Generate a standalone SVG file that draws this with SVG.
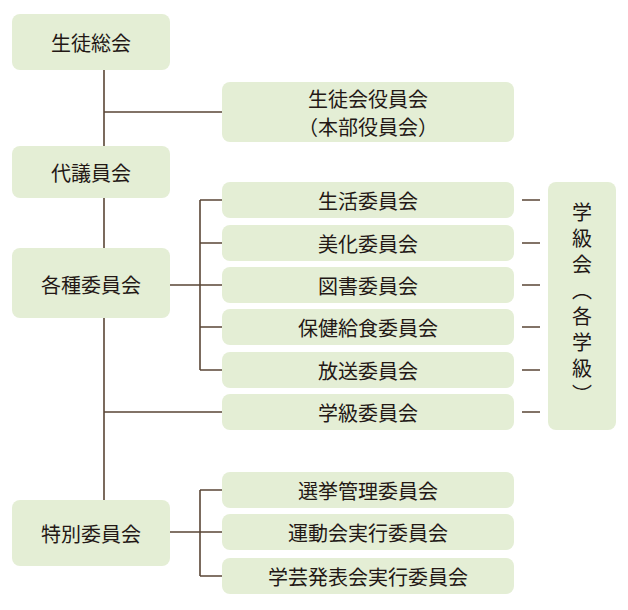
<svg xmlns="http://www.w3.org/2000/svg" width="628" height="610" viewBox="0 0 628 610">
<style>
.b{fill:#e4eed5;stroke:none}
.t{font-family:"Noto Sans CJK JP","Noto Sans",sans-serif;font-size:20px;fill:#231815;text-anchor:middle;dominant-baseline:central}
.l{stroke:#5a4636;stroke-width:1.6;fill:none}
</style>
<rect width="628" height="610" fill="#fff"/>
<g id="connectors">
<path class="l" d="M104 70V500M104 112H222M104 412H222M170 285H222M200 200V370M200 200H222M200 243H222M200 327H222M200 370H222M170 532H222M200 490V576M200 490H222M200 576H222"/>
<path class="l" d="M522 200H540M522 243H540M522 285H540M522 327H540M522 370H540M522 412H540"/>
</g>
<g id="n1"><rect class="b" x="12" y="14" width="158" height="56" rx="8"/><text class="t" x="91" y="42">生徒総会</text></g>
<g id="n2"><rect class="b" x="222" y="82" width="292" height="60" rx="8"/><text class="t" x="368" y="98">生徒会役員会</text><text class="t" x="368" y="126">（本部役員会）</text></g>
<g id="n3"><rect class="b" x="12" y="146" width="158" height="52" rx="8"/><text class="t" x="91" y="172">代議員会</text></g>
<g id="n4"><rect class="b" x="12" y="248" width="158" height="70" rx="8"/><text class="t" x="91" y="284">各種委員会</text></g>
<g id="n5"><rect class="b" x="12" y="500" width="158" height="66" rx="8"/><text class="t" x="91" y="533">特別委員会</text></g>
<g id="n6"><rect class="b" x="222" y="182" width="292" height="36" rx="8"/><text class="t" x="368" y="200">生活委員会</text></g>
<g id="n7"><rect class="b" x="222" y="225" width="292" height="36" rx="8"/><text class="t" x="368" y="243">美化委員会</text></g>
<g id="n8"><rect class="b" x="222" y="267" width="292" height="36" rx="8"/><text class="t" x="368" y="285">図書委員会</text></g>
<g id="n9"><rect class="b" x="222" y="309" width="292" height="36" rx="8"/><text class="t" x="368" y="327">保健給食委員会</text></g>
<g id="n10"><rect class="b" x="222" y="352" width="292" height="36" rx="8"/><text class="t" x="368" y="370">放送委員会</text></g>
<g id="n11"><rect class="b" x="222" y="394" width="292" height="36" rx="8"/><text class="t" x="368" y="412">学級委員会</text></g>
<g id="n12"><rect class="b" x="222" y="472" width="292" height="36" rx="8"/><text class="t" x="368" y="490">選挙管理委員会</text></g>
<g id="n13"><rect class="b" x="222" y="514" width="292" height="36" rx="8"/><text class="t" x="368" y="532">運動会実行委員会</text></g>
<g id="n14"><rect class="b" x="222" y="558" width="292" height="36" rx="8"/><text class="t" x="368" y="576">学芸発表会実行委員会</text></g>
<g id="n15"><rect class="b" x="548" y="182" width="68" height="248" rx="8"/><text class="t" x="582" y="306" style="writing-mode:vertical-rl;dominant-baseline:auto" letter-spacing="6">学級会（各学級）</text></g>
</svg>
